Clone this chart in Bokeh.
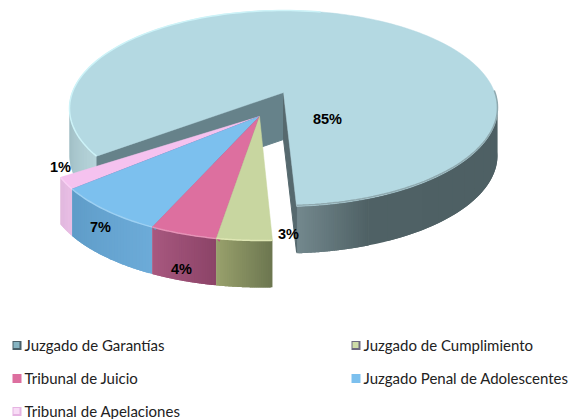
import numpy as np
from bokeh.plotting import figure
from bokeh.models import Range1d
from bokeh.core.properties import value
from bokeh.embed import file_html
from bokeh.resources import INLINE

categories = ["Juzgado de Garantías", "Juzgado de Cumplimiento", "Tribunal de Juicio",
              "Juzgado Penal de Adolescentes", "Tribunal de Apelaciones"]
shares = [85, 3, 4, 7, 1]
labels = ["85%", "3%", "4%", "7%", "1%"]

# drawing style: pie projection and appearance, not data
spread = [0.966, 1.40, 1.28, 1.24, 2.1]   # apparent widening by the 3D perspective
top_col = ["#b4d9e2", "#c8d6a0", "#dd6f9f", "#7cc0ee", "#f5c2ef"]
wall_a = ["#73888d", "#6d7750", "#8c4468", "#6cabd8", "#e8bce4"]
wall_b = ["#4d5f63", "#98a06c", "#a8587f", "#5f9cc8", "#e0b4dc"]
edge_col = ["#66828a", "#dfe7b4", "#b84f80", "#5f9cbf", "#9a78b8"]
legend_out = ["#4a5f68", "#6f6a80", "#dd6f9f", "#7cc0ee", "#e6b4e2"]
legend_in = ["#86b4c2", "#cfdca8", "#dd6f9f", "#7cc0ee", "#f8dcf6"]
legend_pos = [(12, 345), (351, 345), (12, 378), (351, 378), (12, 411)]
label_pos = [(327, 118), (288, 233), (181, 268), (100, 226), (60, 166)]

RX, RY, DEPTH = 214, 98, 47
MAIN_C = (283, 108)
MAIN_APEX = (283, 92)
SMALL_C = (260, 142)
SMALL_APEX = (259, 116)
MAIN_START = -3.5   # degrees from the bottom, growing clockwise


def rim(c, th):
    t = np.radians(th)
    return c[0] - RX * np.sin(t), c[1] + RY * np.cos(t)


def mix(a, b, f):
    ca = [int(a[i:i + 2], 16) for i in (1, 3, 5)]
    cb = [int(b[i:i + 2], 16) for i in (1, 3, 5)]
    return "#%02x%02x%02x" % tuple(int(round(x + (y - x) * f)) for x, y in zip(ca, cb))


p = figure(width=570, height=419, x_range=Range1d(0, 570), y_range=Range1d(419, 0),
           output_backend="svg", toolbar_location=None, min_border=0,
           background_fill_color="white", outline_line_color=None)
p.axis.visible = False
p.grid.visible = False


def wall(c, t0, t1, col0, col1, n=None):
    n = n or max(2, int(abs(t1 - t0) / 2))
    edges = np.linspace(t0, t1, n + 1)
    # drawn as overlapping quads, each reaching over the next, so no seams show
    for i in range(n):
        e = min(i + 2, n)
        arc = [rim(c, t) for t in np.linspace(edges[i], edges[e], 6)]
        xs = [q[0] for q in arc] + [q[0] for q in arc[::-1]]
        ys = [q[1] for q in arc] + [q[1] + DEPTH for q in arc[::-1]]
        col = mix(col0, col1, i / max(1, n - 1))
        p.patch(xs, ys, fill_color=col, line_color=None)


# ---- main slice
main_span = shares[0] * 3.6 * spread[0]
main_end = MAIN_START - main_span + 360      # left corner of the cut
a0 = rim(MAIN_C, main_end)
a1 = rim(MAIN_C, MAIN_START)

# cut walls
p.patch([MAIN_APEX[0], a0[0], a0[0], MAIN_APEX[0]],
        [MAIN_APEX[1], a0[1], a0[1] + DEPTH, MAIN_APEX[1] + DEPTH],
        fill_color="#66828a", line_color="#66828a")
# outer wall, right side
wall(MAIN_C, MAIN_START, MAIN_START - 20, "#73888d", "#4f6165", 40)
wall(MAIN_C, MAIN_START - 20, -92, "#4f6165", "#4d5f63", 12)
# outer wall, left side
wall(MAIN_C, main_end, 92, "#b5d3d9", "#9cbac1", 16)
p.patch([MAIN_APEX[0], a1[0], a1[0], MAIN_APEX[0]],
        [MAIN_APEX[1], a1[1], a1[1] + DEPTH - 1, MAIN_APEX[1] + DEPTH],
        fill_color="#56696e", line_color="#56696e")
# top
ths = np.linspace(main_end, MAIN_START + 360, 240)
pts = [rim(MAIN_C, t) for t in ths]
p.patch([MAIN_APEX[0]] + [q[0] for q in pts], [MAIN_APEX[1]] + [q[1] for q in pts],
        fill_color=top_col[0], line_color=top_col[0], line_width=0.5)
# bevels: bright on the back left, shaded on the front right
hl = [rim(MAIN_C, t) for t in np.linspace(main_end, 190, 80)]
p.line([q[0] for q in hl], [q[1] for q in hl], line_color="#cdf3f8", line_width=1.5)
sh = [rim(MAIN_C, t) for t in np.linspace(MAIN_START, -100, 60)]
p.line([q[0] for q in sh], [q[1] - 1 for q in sh], line_color="#8fa9af", line_width=1.5)

# ---- small slices, exploded towards the viewer
th = -3.2
spans = []
for i in range(1, 5):
    s = shares[i] * 3.6 * spread[i]
    spans.append((th, th + s))
    th += s

for i in (4, 3, 2, 1):
    t0, t1 = spans[i - 1]
    wall(SMALL_C, t0, t1, wall_a[i], wall_b[i], 30)
for i in (4, 3, 2, 1):
    t0, t1 = spans[i - 1]
    arc = [rim(SMALL_C, t) for t in np.linspace(t0, t1, 30)]
    p.patch([SMALL_APEX[0]] + [q[0] for q in arc], [SMALL_APEX[1]] + [q[1] for q in arc],
            fill_color=top_col[i], line_color=top_col[i], line_width=0.5)
    p.line([q[0] for q in arc], [q[1] for q in arc],
           line_color=edge_col[1] if i == 1 else mix(top_col[i], "#ffffff", 0.25), line_width=1.5)
    if i > 1:
        st = arc[0]
        p.patch([SMALL_APEX[0], st[0], st[0] + 3, SMALL_APEX[0]],
                [SMALL_APEX[1], st[1], st[1] + 3, SMALL_APEX[1]],
                fill_color=edge_col[i], line_color=edge_col[i], line_width=0.5)

# ---- data labels
p.text([q[0] for q in label_pos], [q[1] for q in label_pos], text=labels,
       text_font=value("Liberation Sans"), text_font_style="bold", text_font_size="14.5px",
       text_color="#000000", text_align="center", text_baseline="middle")

# ---- legend
for (x, y), co, ci, name in zip(legend_pos, legend_out, legend_in, categories):
    p.rect([x + 4.5], [y], width=9, height=9, fill_color=co, line_color=None)
    p.rect([x + 4], [y - 0.5], width=6, height=6, fill_color=ci, line_color=None)
    p.text([x + 12], [y - 1], text=[name], text_font=value("Lato"), text_font_size="15px",
           text_color="#222222", text_align="left", text_baseline="middle")

open("out.html", "w").write(file_html(p, INLINE))
